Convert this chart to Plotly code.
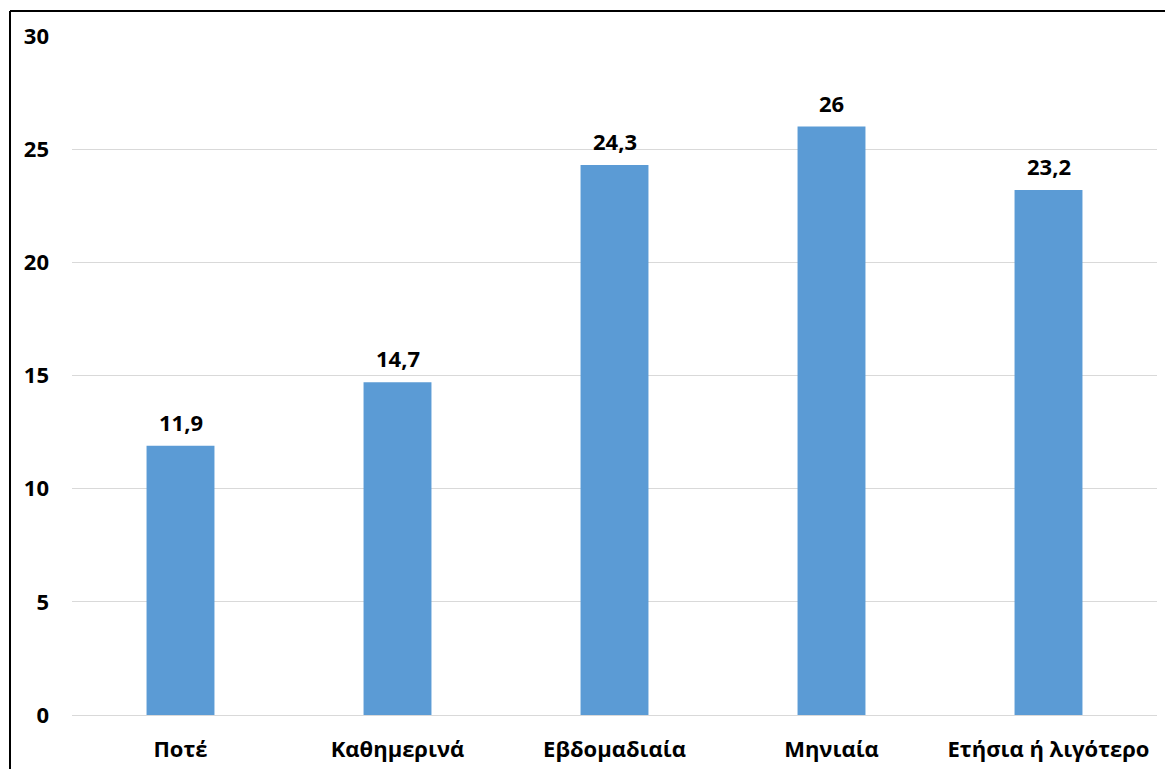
import plotly.graph_objects as go

categories = ["Ποτέ", "Καθημερινά", "Εβδομαδιαία", "Μηνιαία", "Ετήσια ή λιγότερο"]
values = [11.9, 14.7, 24.3, 26, 23.2]
y_ticks = [0, 5, 10, 15, 20, 25, 30]

W, H = 1165, 769
L, R, T, B = 72, 8, 36, 54
pw, ph = W - L - R, H - T - B

labels = [f"{v:g}".replace(".", ",") for v in values]

fig = go.Figure(go.Bar(
    x=categories, y=values,
    marker=dict(color="#5B9BD5", line=dict(width=0)),
    cliponaxis=False,
))

for c, v, t in zip(categories, values, labels):
    fig.add_annotation(x=c, y=v, text=t, showarrow=False, yanchor="bottom",
                       yshift=7, font=dict(family="Open Sans", size=22,
                                           color="#000000", weight="bold"))

fig.update_layout(
    width=W, height=H,
    margin=dict(l=L, r=R, t=T, b=B, pad=0, autoexpand=False),
    paper_bgcolor="white", plot_bgcolor="white",
    bargap=0.687,
    showlegend=False,
    font=dict(family="Open Sans", color="#000000"),
    xaxis=dict(showgrid=False, showline=False, ticks="", ticklabelstandoff=19,
               automargin=False,
               tickfont=dict(size=22, weight="bold", color="#000000")),
    yaxis=dict(range=[0, 30], tickvals=y_ticks, showgrid=True, gridcolor="#D9D9D9",
               gridwidth=1, zeroline=True, zerolinecolor="#D9D9D9", zerolinewidth=1,
               showline=False, ticks="", ticklabelstandoff=22, automargin=False,
               tickfont=dict(size=22, weight="bold", color="#000000")),
)

# outer border (left and top edges visible)
x_left = (10 - L) / pw
y_top = 1 + (T - 11) / ph
y_bot = -(B + 5) / ph
fig.add_shape(type="line", xref="paper", yref="paper", x0=x_left, x1=x_left,
              y0=y_top, y1=y_bot, line=dict(color="#000000", width=2))
fig.add_shape(type="line", xref="paper", yref="paper", x0=x_left, x1=1 + (R + 5) / pw,
              y0=y_top, y1=y_top, line=dict(color="#000000", width=2))

fig.write_html("out.html")
